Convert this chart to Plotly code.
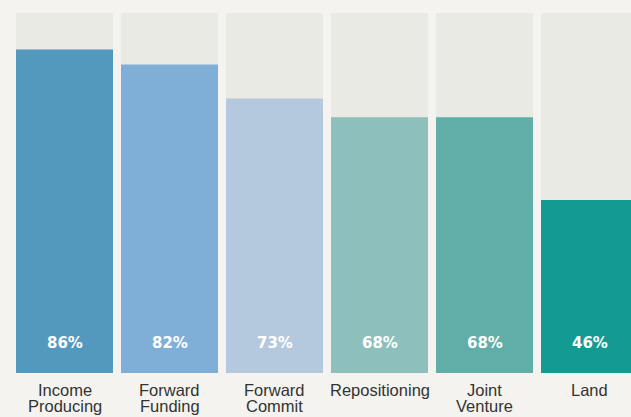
import plotly.graph_objects as go

# Share of deals by strategy (%)
categories = ["Income Producing", "Forward Funding", "Forward Commit",
              "Repositioning", "Joint Venture", "Land"]
label_lines = [["Income", "Producing"], ["Forward", "Funding"], ["Forward", "Commit"],
               ["Repositioning"], ["Joint", "Venture"], ["Land"]]
values = [86, 82, 73, 68, 68, 46]
track_max = 95.7

bar_colors = ["#5399be", "#7faed6", "#b4c9de", "#8dbfbc", "#61aea8", "#139a92"]
track_color = "#eaeae5"
bg_color = "#f4f3ef"

x = list(range(len(categories)))
bar_width = 97 / 105

fig = go.Figure()
fig.add_trace(go.Bar(x=x, y=[track_max] * len(x), width=bar_width,
                     marker=dict(color=track_color, line=dict(width=0)),
                     hoverinfo="skip", showlegend=False))
fig.add_trace(go.Bar(x=x, y=values, width=bar_width,
                     marker=dict(color=bar_colors, line=dict(width=0)),
                     customdata=categories,
                     hovertemplate="%{customdata}: %{y}%<extra></extra>",
                     showlegend=False))

annotations = []
for i, v in enumerate(values):
    annotations.append(dict(x=i, y=0, xref="x", yref="y", text=f"<b>{v}%</b>",
                            showarrow=False, yanchor="middle", yshift=30,
                            font=dict(family="DejaVu Sans", size=15, color="#ffffff")))
    for j, line in enumerate(label_lines[i]):
        annotations.append(dict(x=i, y=0, xref="x", yref="y", text=line,
                                showarrow=False, yanchor="middle", yshift=-17 - 16 * j,
                                font=dict(family="Liberation Sans", size=16.5, color="#333333")))

fig.update_layout(
    width=631, height=417,
    margin=dict(l=0, r=0, t=13, b=44),
    paper_bgcolor=bg_color, plot_bgcolor=bg_color,
    barmode="overlay",
    xaxis=dict(range=[-64.5 / 105, (631 - 64.5) / 105], visible=False, fixedrange=True),
    yaxis=dict(range=[0, track_max], visible=False, fixedrange=True),
    annotations=annotations,
)

fig.write_html("out.html")
